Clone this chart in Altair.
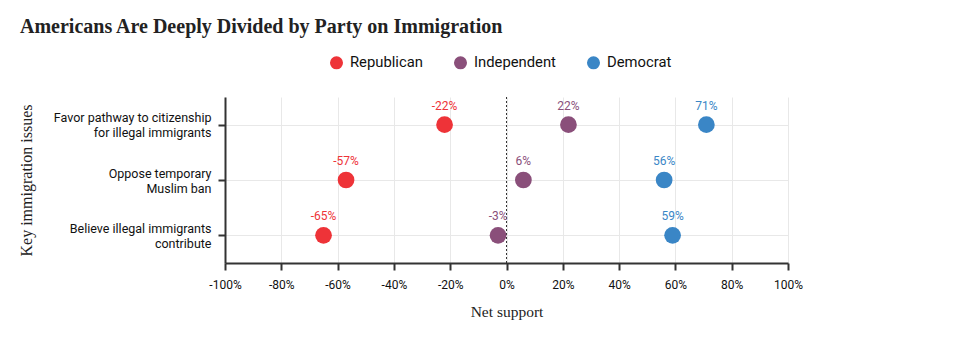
import altair as alt
import pandas as pd

issues = [
    "Favor pathway to citizenship\nfor illegal immigrants",
    "Oppose temporary\nMuslim ban",
    "Believe illegal immigrants\ncontribute",
]
parties = ["Republican", "Independent", "Democrat"]
republican = [-22, -57, -65]
independent = [22, 6, -3]
democrat = [71, 56, 59]
colors = ["#EE3338", "#8A4F7A", "#3A86C6"]
x_ticks = [-100, -80, -60, -40, -20, 0, 20, 40, 60, 80, 100]

rows = []
for party, vals in zip(parties, [republican, independent, democrat]):
    for issue, v in zip(issues, vals):
        rows.append({"issue": issue, "party": party, "value": v, "label": f"{v}%"})
df = pd.DataFrame(rows)
zero = pd.DataFrame({"zero": [0]})

x_enc = alt.X(
    "value:Q",
    scale=alt.Scale(domain=[-100, 100], nice=False),
    title="Net support",
    axis=alt.Axis(
        values=x_ticks,
        labelExpr="datum.value + '%'",
        labelFontSize=12,
        labelPadding=9,
        labelFlush=False,
        titlePadding=14,
        grid=True,
    ),
)
y_enc = alt.Y(
    "issue:N",
    sort=issues,
    title="Key immigration issues",
    axis=alt.Axis(
        labelExpr="split(datum.label, '\\n')",
        labelFontSize=12.5,
        labelLineHeight=15,
        labelPadding=7,
        labelOffset=-7,
        labelLimit=300,
        titleX=-191,
        titleFontSize=16,
        grid=True,
    ),
)
color_enc = alt.Color(
    "party:N",
    scale=alt.Scale(domain=parties, range=colors),
    legend=alt.Legend(
        title=None,
        orient="none",
        direction="horizontal",
        legendX=104,
        legendY=-42,
        symbolType="circle",
        symbolSize=170,
        symbolOpacity=1,
        labelFont="Roboto",
        labelFontSize=14.8,
        labelColor="#111",
        columnPadding=30,
        labelOffset=6,
    ),
)

rule = alt.Chart(zero).mark_rule(color="#333", strokeDash=[2, 2], strokeWidth=1).encode(
    x=alt.X("zero:Q")
)
points = alt.Chart(df).mark_circle(size=280, opacity=1).encode(
    x=x_enc, y=y_enc, color=color_enc
)
labels = alt.Chart(df).mark_text(
    dy=-19, fontSize=12, font="Roboto", baseline="middle"
).encode(
    x=alt.X("value:Q"),
    y=alt.Y("issue:N", sort=issues),
    text="label:N",
    color=alt.Color("party:N", scale=alt.Scale(domain=parties, range=colors), legend=None),
)

chart = (
    alt.layer(rule, points, labels)
    .properties(
        width=563,
        height=166,
        autosize=alt.AutoSizeParams(type="none"),
        padding={"left": 225, "top": 97, "right": 172, "bottom": 79},
        title=alt.TitleParams(
            "Americans Are Deeply Divided by Party on Immigration",
            anchor="start",
            frame="group",
            font="Liberation Serif",
            fontSize=20,
            fontWeight="bold",
            color="#222",
            dx=-205,
            dy=-14,
        ),
    )
    .configure_axis(
        domainColor="#333",
        domainWidth=2,
        tickColor="#333",
        tickWidth=2,
        tickSize=7,
        gridColor="#e8e8e8",
        gridWidth=1,
        labelFont="Roboto",
        labelColor="#111",
        titleFont="Liberation Serif",
        titleFontSize=15.5,
        titleFontWeight="normal",
        titleColor="#222",
    )
    .configure_view(stroke=None)
)

chart.save("out.html", embed_options={"renderer": "svg", "actions": False})
